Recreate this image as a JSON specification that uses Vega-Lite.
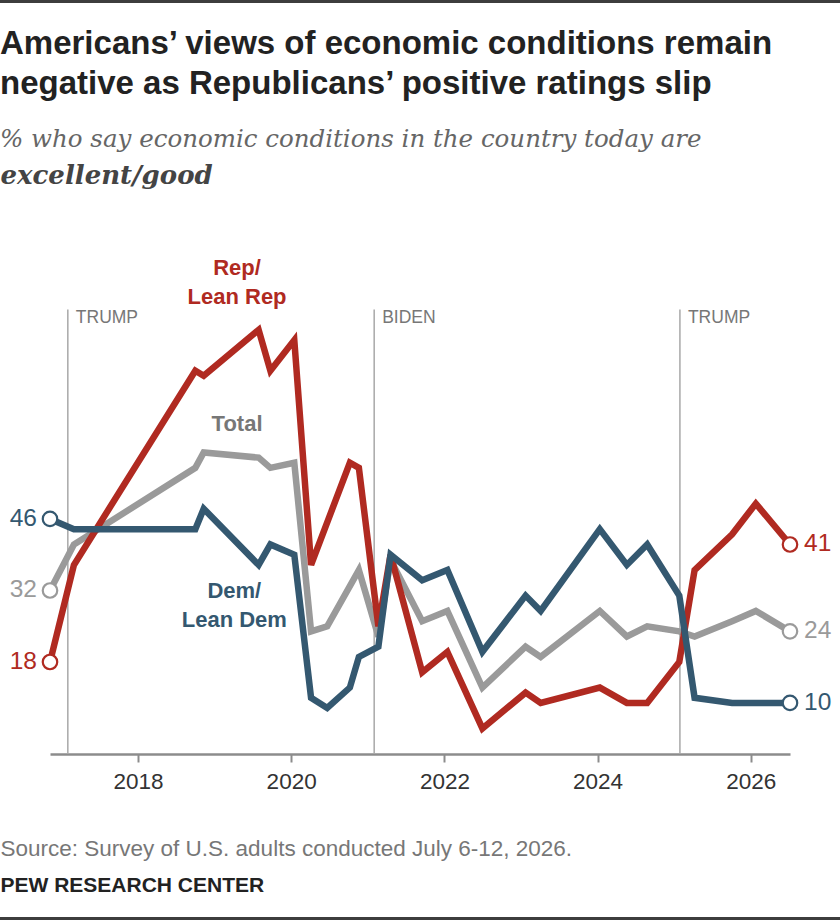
{
  "$schema": "https://vega.github.io/schema/vega-lite/v6.json",
  "width": 740,
  "height": 511,
  "autosize": {"type": "none"},
  "padding": {"left": 50, "top": 243, "right": 50, "bottom": 166},
  "background": "white",
  "config": {"view": {"stroke": null}},
  "title": {
    "text": ["Americans’ views of economic conditions remain", "negative as Republicans’ positive ratings slip"],
    "subtitle": "% who say economic conditions in the country today are",
    "anchor": "start",
    "frame": "bounds",
    "font": "Liberation Sans",
    "fontSize": 33,
    "fontWeight": "bold",
    "color": "#222222",
    "lineHeight": 40,
    "subtitleFont": "DejaVu Serif",
    "subtitleFontStyle": "italic",
    "subtitleFontSize": 24.5,
    "subtitleColor": "#666666",
    "subtitlePadding": 27,
    "offset": -151
  },
  "datasets": {
    "lines": [
      {"series": "Total", "date": "2016-11-07", "value": 32},
      {"series": "Total", "date": "2017-03-01", "value": 41},
      {"series": "Total", "date": "2018-10-01", "value": 56},
      {"series": "Total", "date": "2018-11-10", "value": 59},
      {"series": "Total", "date": "2019-07-30", "value": 58},
      {"series": "Total", "date": "2019-09-24", "value": 56},
      {"series": "Total", "date": "2020-01-16", "value": 57},
      {"series": "Total", "date": "2020-04-05", "value": 24},
      {"series": "Total", "date": "2020-06-21", "value": 25},
      {"series": "Total", "date": "2020-11-19", "value": 36},
      {"series": "Total", "date": "2021-02-20", "value": 23},
      {"series": "Total", "date": "2021-04-19", "value": 38},
      {"series": "Total", "date": "2021-09-17", "value": 26},
      {"series": "Total", "date": "2022-01-15", "value": 28},
      {"series": "Total", "date": "2022-07-01", "value": 13},
      {"series": "Total", "date": "2023-01-23", "value": 21},
      {"series": "Total", "date": "2023-04-05", "value": 19},
      {"series": "Total", "date": "2024-01-12", "value": 28},
      {"series": "Total", "date": "2024-05-20", "value": 23},
      {"series": "Total", "date": "2024-08-25", "value": 25},
      {"series": "Total", "date": "2025-01-25", "value": 24},
      {"series": "Total", "date": "2025-04-08", "value": 23},
      {"series": "Total", "date": "2025-10-04", "value": 26},
      {"series": "Total", "date": "2026-01-25", "value": 28},
      {"series": "Total", "date": "2026-07-07", "value": 24},
      {"series": "Rep", "date": "2016-11-07", "value": 18},
      {"series": "Rep", "date": "2017-03-01", "value": 37},
      {"series": "Rep", "date": "2018-10-01", "value": 75},
      {"series": "Rep", "date": "2018-11-10", "value": 74},
      {"series": "Rep", "date": "2019-07-30", "value": 83},
      {"series": "Rep", "date": "2019-09-24", "value": 75},
      {"series": "Rep", "date": "2020-01-16", "value": 81},
      {"series": "Rep", "date": "2020-04-05", "value": 37},
      {"series": "Rep", "date": "2020-10-07", "value": 57},
      {"series": "Rep", "date": "2020-11-19", "value": 56},
      {"series": "Rep", "date": "2021-02-20", "value": 25},
      {"series": "Rep", "date": "2021-04-19", "value": 39},
      {"series": "Rep", "date": "2021-09-17", "value": 16},
      {"series": "Rep", "date": "2022-01-15", "value": 20},
      {"series": "Rep", "date": "2022-07-01", "value": 5},
      {"series": "Rep", "date": "2023-01-23", "value": 12},
      {"series": "Rep", "date": "2023-04-05", "value": 10},
      {"series": "Rep", "date": "2024-01-12", "value": 13},
      {"series": "Rep", "date": "2024-05-20", "value": 10},
      {"series": "Rep", "date": "2024-08-25", "value": 10},
      {"series": "Rep", "date": "2025-01-25", "value": 18},
      {"series": "Rep", "date": "2025-04-08", "value": 36},
      {"series": "Rep", "date": "2025-10-04", "value": 43},
      {"series": "Rep", "date": "2026-01-25", "value": 49},
      {"series": "Rep", "date": "2026-07-07", "value": 41},
      {"series": "Dem", "date": "2016-11-07", "value": 46},
      {"series": "Dem", "date": "2017-03-01", "value": 44},
      {"series": "Dem", "date": "2018-10-01", "value": 44},
      {"series": "Dem", "date": "2018-11-10", "value": 48},
      {"series": "Dem", "date": "2019-07-30", "value": 37},
      {"series": "Dem", "date": "2019-09-24", "value": 41},
      {"series": "Dem", "date": "2020-01-16", "value": 39},
      {"series": "Dem", "date": "2020-04-05", "value": 11},
      {"series": "Dem", "date": "2020-06-21", "value": 9},
      {"series": "Dem", "date": "2020-10-07", "value": 13},
      {"series": "Dem", "date": "2020-11-19", "value": 19},
      {"series": "Dem", "date": "2021-02-20", "value": 21},
      {"series": "Dem", "date": "2021-04-19", "value": 39},
      {"series": "Dem", "date": "2021-09-17", "value": 34},
      {"series": "Dem", "date": "2022-01-15", "value": 36},
      {"series": "Dem", "date": "2022-07-01", "value": 20},
      {"series": "Dem", "date": "2023-01-23", "value": 31},
      {"series": "Dem", "date": "2023-04-05", "value": 28},
      {"series": "Dem", "date": "2024-01-12", "value": 44},
      {"series": "Dem", "date": "2024-05-20", "value": 37},
      {"series": "Dem", "date": "2024-08-25", "value": 41},
      {"series": "Dem", "date": "2025-01-25", "value": 31},
      {"series": "Dem", "date": "2025-04-08", "value": 11},
      {"series": "Dem", "date": "2025-10-04", "value": 10},
      {"series": "Dem", "date": "2026-01-25", "value": 10},
      {"series": "Dem", "date": "2026-07-07", "value": 10}
    ],
    "periods": [
      {"label": "TRUMP", "date": "2017-01-31"},
      {"label": "BIDEN", "date": "2021-01-31"},
      {"label": "TRUMP", "date": "2025-01-28"}
    ],
    "labels": [
      {"label": "Rep/\nLean Rep", "series": "Rep", "date": "2019-04-18", "value": 95.1},
      {"label": "Total", "series": "Total", "date": "2019-04-18", "value": 64.6},
      {"label": "Dem/\nLean Dem", "series": "Dem", "date": "2019-04-05", "value": 31.9}
    ]
  },
  "resolve": {"axis": {"x": "independent", "y": "independent"}},
  "layer": [
    {
      "data": {"name": "periods"},
      "encoding": {
        "x": {
          "field": "date", "type": "temporal",
          "scale": {"domain": [{"year": 2016, "month": 11, "date": 7}, {"year": 2026, "month": 7, "date": 7}]},
          "axis": {
            "orient": "top", "labels": false, "ticks": false, "domain": false, "grid": false,
            "title": "PEW RESEARCH CENTER", "titleX": -50, "titleY": 642, "titleAlign": "left",
            "titleBaseline": "middle", "titleFont": "Liberation Sans", "titleFontSize": 21,
            "titleFontWeight": "bold", "titleColor": "#222222"
          }
        }
      },
      "layer": [
        {
          "mark": {"type": "rule", "color": "#a8a8a8", "strokeWidth": 1.5},
          "encoding": {
            "y": {"datum": 0, "type": "quantitative", "scale": {"domain": [0, 100]}, "axis": null},
            "y2": {"datum": 87},
            "fill": {
              "datum": 1, "type": "quantitative",
              "scale": {"domain": [0, 1], "range": ["#3d3d3d", "#3d3d3d"]},
              "legend": {"orient": "none", "legendX": -50, "legendY": -243, "direction": "horizontal", "gradientLength": 840, "gradientThickness": 3, "gradientStrokeWidth": 0, "labelExpr": "''", "labelOpacity": 0, "tickCount": 2, "title": null, "padding": 0}
            }
          }
        },
        {
          "mark": {"type": "text", "align": "left", "baseline": "middle", "dx": 8, "font": "Liberation Sans", "fontSize": 17.5, "fill": "#777777", "strokeWidth": 0, "strokeOpacity": 0},
          "encoding": {
            "text": {"field": "label", "type": "nominal"},
            "y": {"datum": 85.3, "type": "quantitative", "axis": null},
            "stroke": {
              "datum": 1, "type": "quantitative",
              "scale": {"domain": [0, 1], "range": ["#3d3d3d", "#3d3d3d"]},
              "legend": {"orient": "none", "legendX": -50, "legendY": 674, "direction": "horizontal", "gradientLength": 840, "gradientThickness": 3, "gradientStrokeWidth": 0, "labelExpr": "''", "labelOpacity": 0, "tickCount": 2, "title": null, "padding": 0}
            }
          }
        }
      ]
    },
    {
      "encoding": {
        "x": {
          "field": "date", "type": "temporal",
          "scale": {"domain": [{"year": 2016, "month": 11, "date": 7}, {"year": 2026, "month": 7, "date": 7}]},
          "axis": {
            "orient": "bottom",
            "values": [{"year": 2018, "month": 1, "date": 1}, {"year": 2020, "month": 1, "date": 1}, {"year": 2022, "month": 1, "date": 1}, {"year": 2024, "month": 1, "date": 1}, {"year": 2026, "month": 1, "date": 1}],
            "format": "%Y", "grid": false,
            "labelFont": "Liberation Sans", "labelFontSize": 22.5, "labelColor": "#333333", "labelPadding": 8,
            "tickSize": 8, "tickColor": "#8c8c8c", "tickWidth": 2,
            "domainColor": "#8c8c8c", "domainWidth": 2.5,
            "title": "Source: Survey of U.S. adults conducted July 6-12, 2026.",
            "titleX": -50, "titleY": 94, "titleAlign": "left", "titleBaseline": "middle",
            "titleFont": "Liberation Sans", "titleFontSize": 22.5, "titleFontWeight": "normal", "titleColor": "#777777"
          }
        },
        "y": {
          "field": "value", "type": "quantitative",
          "scale": {"domain": [0, 100]},
          "axis": {
            "labels": false, "ticks": false, "domain": false, "grid": false,
            "title": "excellent/good", "titleAngle": 0, "titleX": -50, "titleY": -68,
            "titleAlign": "left", "titleBaseline": "middle",
            "titleFont": "DejaVu Serif", "titleFontStyle": "italic", "titleFontWeight": "bold",
            "titleFontSize": 26, "titleColor": "#444444"
          }
        }
      },
      "layer": [
        {
          "data": {"name": "lines"},
          "mark": {"type": "line", "strokeWidth": 6.5, "strokeJoin": "miter", "strokeCap": "butt"},
          "encoding": {
            "color": {"field": "series", "type": "nominal", "scale": {"domain": ["Rep", "Dem", "Total"], "range": ["#b02a21", "#345870", "#9a9a9a"]}, "legend": null},
            "detail": {"field": "series"}
          }
        },
        {
          "data": {"name": "lines"},
          "transform": [{"filter": "utcyear(datum.date) == 2016 || (utcyear(datum.date) == 2026 && utcmonth(datum.date) == 6)"}],
          "mark": {"type": "point", "shape": "circle", "filled": true, "fill": "white", "size": 210, "strokeWidth": 2.2, "opacity": 1},
          "encoding": {
            "stroke": {"field": "series", "type": "nominal", "scale": {"domain": ["Rep", "Dem", "Total"], "range": ["#b02a21", "#345870", "#9a9a9a"]}, "legend": null}
          }
        },
        {
          "data": {"name": "lines"},
          "transform": [{"filter": "utcyear(datum.date) == 2016"}],
          "mark": {"type": "text", "align": "right", "baseline": "middle", "dx": -13, "font": "Liberation Sans", "fontSize": 24.5},
          "encoding": {
            "text": {"field": "value", "type": "quantitative"},
            "color": {"field": "series", "type": "nominal", "scale": {"domain": ["Rep", "Dem", "Total"], "range": ["#b02a21", "#345870", "#9a9a9a"]}, "legend": null}
          }
        },
        {
          "data": {"name": "lines"},
          "transform": [{"filter": "utcyear(datum.date) == 2026 && utcmonth(datum.date) == 6"}],
          "mark": {"type": "text", "align": "left", "baseline": "middle", "dx": 14, "font": "Liberation Sans", "fontSize": 24.5},
          "encoding": {
            "text": {"field": "value", "type": "quantitative"},
            "color": {"field": "series", "type": "nominal", "scale": {"domain": ["Rep", "Dem", "Total"], "range": ["#b02a21", "#345870", "#9a9a9a"]}, "legend": null}
          }
        },
        {
          "data": {"name": "labels"},
          "mark": {"type": "text", "align": "center", "baseline": "middle", "font": "Liberation Sans", "fontSize": 22, "fontWeight": "bold", "lineBreak": "\n", "lineHeight": 29},
          "encoding": {
            "text": {"field": "label"},
            "color": {
              "condition": {"test": "datum.series == 'Total'", "value": "#777777"},
              "field": "series", "type": "nominal", "scale": {"domain": ["Rep", "Dem", "Total"], "range": ["#b02a21", "#345870", "#9a9a9a"]}, "legend": null
            }
          }
        }
      ]
    }
  ]
}
